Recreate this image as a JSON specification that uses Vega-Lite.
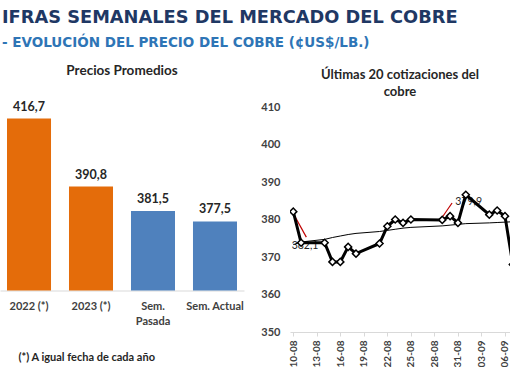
{
  "$schema": "https://vega.github.io/schema/vega-lite/v6.json",
  "padding": {"left": 0, "top": 8, "right": 0, "bottom": 0},
  "background": "white",
  "config": {
    "locale": {"number": {"decimal": ",", "thousands": ".", "grouping": [3], "currency": ["$", ""]}},
    "view": {"stroke": null},
    "font": "Lato"
  },
  "title": {
    "text": "IFRAS SEMANALES DEL MERCADO DEL COBRE",
    "subtitle": "- EVOLUCIÓN DEL PRECIO DEL COBRE (¢US$/LB.)",
    "anchor": "start",
    "font": "DejaVu Sans",
    "fontSize": 17.8,
    "fontWeight": "bold",
    "color": "#1F3864",
    "subtitleFont": "DejaVu Sans",
    "subtitleFontSize": 13.5,
    "subtitleFontWeight": "bold",
    "subtitleColor": "#2E75B6",
    "subtitlePadding": 9,
    "offset": 15,
    "dx": 2
  },
  "datasets": {
    "promedios": [
      {"periodo": "2022 (*)", "precio": 416.7, "tipo": "Anual"},
      {"periodo": "2023 (*)", "precio": 390.8, "tipo": "Anual"},
      {"periodo": "Sem. Pasada", "precio": 381.5, "tipo": "Semanal"},
      {"periodo": "Sem. Actual", "precio": 377.5, "tipo": "Semanal"}
    ],
    "cotizaciones": [
      {"fecha": "2023-08-10", "precio": 382.1, "tendencia": 373.3},
      {"fecha": "2023-08-11", "precio": 373.8, "tendencia": 374.0},
      {"fecha": "2023-08-14", "precio": 373.8, "tendencia": 374.7},
      {"fecha": "2023-08-15", "precio": 368.7, "tendencia": 375.2},
      {"fecha": "2023-08-16", "precio": 368.7, "tendencia": 375.6},
      {"fecha": "2023-08-17", "precio": 372.7, "tendencia": 376.0},
      {"fecha": "2023-08-18", "precio": 370.9, "tendencia": 376.3},
      {"fecha": "2023-08-21", "precio": 373.6, "tendencia": 376.8},
      {"fecha": "2023-08-22", "precio": 378.2, "tendencia": 377.1},
      {"fecha": "2023-08-23", "precio": 380.0, "tendencia": 377.4},
      {"fecha": "2023-08-24", "precio": 379.1, "tendencia": 377.7},
      {"fecha": "2023-08-25", "precio": 380.0, "tendencia": 377.9},
      {"fecha": "2023-08-29", "precio": 379.9, "tendencia": 378.3},
      {"fecha": "2023-08-30", "precio": 380.9, "tendencia": 378.5},
      {"fecha": "2023-08-31", "precio": 379.1, "tendencia": 378.7},
      {"fecha": "2023-09-01", "precio": 386.6, "tendencia": 378.9},
      {"fecha": "2023-09-04", "precio": 381.3, "tendencia": 379.1},
      {"fecha": "2023-09-05", "precio": 382.4, "tendencia": 379.2},
      {"fecha": "2023-09-06", "precio": 380.9, "tendencia": 379.3},
      {"fecha": "2023-09-07", "precio": 368.0, "tendencia": 379.4}
    ],
    "etiquetas": [
      {"fecha": "2023-08-10", "precio": 381.6, "fecha_txt": "2023-08-11T12:00:00Z", "precio_txt": 373.0, "fecha_fin": "2023-08-11T16:00:00Z", "precio_fin": 375.3, "texto": "382,1"},
      {"fecha": "2023-08-29", "precio": 380.6, "fecha_txt": "2023-09-01T09:00:00Z", "precio_txt": 384.6, "fecha_fin": "2023-08-30T06:00:00Z", "precio_fin": 384.4, "texto": "379,9"}
    ]
  },
  "hconcat": [
    {
      "width": 244,
      "height": 183.5,
      "title": {"text": "Precios Promedios", "font": "Lato", "fontSize": 13.5, "fontWeight": "bold", "color": "#262626", "anchor": "middle", "offset": 23},
      "data": {"name": "promedios"},
      "encoding": {
        "x": {
          "field": "periodo", "type": "nominal", "sort": null,
          "scale": {"paddingInner": 0.29, "paddingOuter": 0.113},
          "axis": {
            "title": "(*) A igual fecha de cada año",
            "titleFont": "Lato", "titleFontSize": 11, "titleFontWeight": "bold", "titleColor": "#262626",
            "titleAnchor": "start", "titleAlign": "left", "titleX": 18, "titlePadding": 25,
            "labelAngle": 0, "labelFont": "Lato", "labelFontSize": 11, "labelFontWeight": "bold", "labelColor": "#404040",
            "labelPadding": 10, "labelLineHeight": 15,
            "labelExpr": "datum.value == 'Sem. Pasada' ? ['Sem.', 'Pasada'] : datum.label",
            "ticks": false, "domainColor": "#D9D9D9", "labelOverlap": false
          }
        },
        "y": {
          "field": "precio", "type": "quantitative",
          "scale": {"domain": [351.2, 421.1], "zero": false, "nice": false},
          "axis": null
        }
      },
      "layer": [
        {
          "mark": {"type": "bar", "clip": true},
          "encoding": {
            "color": {"field": "tipo", "type": "nominal", "scale": {"domain": ["Anual", "Semanal"], "range": ["#E46C0A", "#4F81BD"]}, "legend": null}
          }
        },
        {
          "mark": {"type": "text", "dy": -12, "baseline": "middle", "font": "Lato", "fontSize": 12.5, "fontWeight": "bold", "color": "#262626"},
          "encoding": {"text": {"field": "precio", "type": "quantitative", "format": ".1f"}}
        }
      ]
    },
    {
      "width": 220,
      "height": 225,
      "title": {"text": ["Últimas 20 cotizaciones del", "cobre"], "font": "Lato", "fontSize": 13, "fontWeight": "bold", "color": "#262626", "anchor": "middle", "lineHeight": 17, "offset": 2},
      "layer": [
        {
          "data": {"name": "etiquetas"},
          "mark": {"type": "rule", "color": "#C00000", "strokeWidth": 1.2},
          "encoding": {
            "x": {"field": "fecha", "type": "temporal"},
            "y": {"field": "precio", "type": "quantitative"},
            "x2": {"field": "fecha_fin"},
            "y2": {"field": "precio_fin"}
          }
        },
        {
          "data": {"name": "etiquetas"},
          "mark": {"type": "text", "font": "Lato", "fontSize": 10.5, "color": "#262626", "baseline": "middle"},
          "encoding": {
            "x": {"field": "fecha_txt", "type": "temporal"},
            "y": {"field": "precio_txt", "type": "quantitative"},
            "text": {"field": "texto"}
          }
        },
        {
          "data": {"name": "cotizaciones"},
          "mark": {"type": "line", "color": "black", "strokeWidth": 1, "clip": true},
          "encoding": {
            "x": {"field": "fecha", "type": "temporal"},
            "y": {"field": "tendencia", "type": "quantitative"}
          }
        },
        {
          "data": {"name": "cotizaciones"},
          "mark": {"type": "line", "color": "black", "strokeWidth": 3, "clip": true},
          "encoding": {
            "x": {"field": "fecha", "type": "temporal"},
            "y": {"field": "precio", "type": "quantitative"}
          }
        },
        {
          "data": {"name": "cotizaciones"},
          "mark": {"type": "point", "shape": "diamond", "filled": true, "fill": "white", "stroke": "black", "strokeWidth": 1.5, "size": 50, "opacity": 1, "clip": true},
          "encoding": {
            "x": {"field": "fecha", "type": "temporal"},
            "y": {"field": "precio", "type": "quantitative"}
          }
        }
      ],
      "encoding": {
        "x": {
          "field": "fecha", "type": "temporal",
          "scale": {"type": "utc", "domain": [{"year": 2023, "month": 8, "date": 9, "hours": 14, "utc": true}, {"year": 2023, "month": 9, "date": 6, "hours": 15, "minutes": 20, "utc": true}]},
          "axis": {
            "title": null, "format": "%d-%m", "labelAngle": 270,
            "values": [
              {"year": 2023, "month": 8, "date": 10, "utc": true},
              {"year": 2023, "month": 8, "date": 13, "utc": true},
              {"year": 2023, "month": 8, "date": 16, "utc": true},
              {"year": 2023, "month": 8, "date": 19, "utc": true},
              {"year": 2023, "month": 8, "date": 22, "utc": true},
              {"year": 2023, "month": 8, "date": 25, "utc": true},
              {"year": 2023, "month": 8, "date": 28, "utc": true},
              {"year": 2023, "month": 8, "date": 31, "utc": true},
              {"year": 2023, "month": 9, "date": 3, "utc": true},
              {"year": 2023, "month": 9, "date": 6, "utc": true}
            ],
            "labelFont": "Lato", "labelFontSize": 10, "labelFontWeight": "bold", "labelColor": "#404040",
            "labelPadding": 4, "tickSize": 4, "tickColor": "#D9D9D9", "domainColor": "#D9D9D9", "grid": false,
            "labelOverlap": false, "labelFlush": false
          }
        },
        "y": {
          "type": "quantitative",
          "scale": {"domain": [350, 410], "zero": false, "nice": false},
          "axis": {
            "title": null, "values": [350, 360, 370, 380, 390, 400, 410], "format": "d",
            "labelFont": "Lato", "labelFontSize": 11, "labelFontWeight": "bold", "labelColor": "#404040",
            "ticks": false, "domain": false, "grid": false, "labelPadding": 10
          }
        }
      }
    }
  ],
  "bounds": "flush",
  "spacing": 46
}
